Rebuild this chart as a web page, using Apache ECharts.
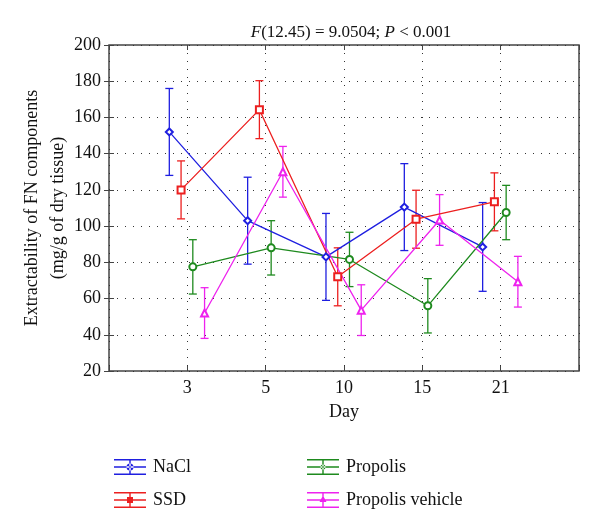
<!DOCTYPE html>
<html>
<head>
<meta charset="utf-8">
<script src="https://cdn.jsdelivr.net/npm/echarts@6/dist/echarts.min.js"></script>
<style>html,body{margin:0;padding:0;background:#fff}#c{width:600px;height:532px}</style>
</head>
<body>
<div id="c"></div>
<script>
const dayLabels = ['3', '5', '10', '15', '21'];
const yTicks = [20, 40, 60, 80, 100, 120, 140, 160, 180, 200];
const seriesNames = ['NaCl', 'SSD', 'Propolis', 'Propolis vehicle'];
const naclMean = [152, 103, 83, 110.5, 88.5];
const naclErr = [24, 24, 24, 24, 24.5];
const ssdMean = [120, 164.3, 72, 103.8, 113.4];
const ssdErr = [16, 16, 16, 16, 16];
const propolisMean = [77.5, 88, 81.6, 56, 107.5];
const propolisErr = [15, 15, 15, 15, 15];
const vehicleMean = [52, 130, 53.6, 103.4, 69.3];
const vehicleErr = [14, 14, 14, 14, 14];

const font = 'Liberation Serif, DejaVu Serif, serif';
const colors = ['#1f1fe0', '#ec1f1f', '#1e8a1e', '#ee22ee'];
const symbols = ['emptyDiamond', 'emptyRect', 'emptyCircle', 'emptyTriangle'];
const offsets = [-0.23, -0.08, 0.07, 0.22];
const means = [naclMean, ssdMean, propolisMean, vehicleMean];
const errs = [naclErr, ssdErr, propolisErr, vehicleErr];

const bars = 'M0,0H32V1.4H0Z M0,14.6H32V16H0Z M0,7.3H32V8.7H0Z M15.3,0H16.7V16H15.3Z ';
const markerPaths = [
  'M12.5,8A3.5,3.5 0 1,0 19.5,8A3.5,3.5 0 1,0 12.5,8Z',
  'M13,5H19V11H13Z',
  'M13.5,8A2.5,2.5 0 1,0 18.5,8A2.5,2.5 0 1,0 13.5,8Z',
  'M16,3.5L19.5,10H12.5Z'
];
const icons = markerPaths.map(m => 'path://' + bars + m);

const series = [];
seriesNames.forEach((name, i) => {
  const pts = means[i].map((v, k) => [k + 1 + offsets[i], v]);
  series.push({
    name: name, type: 'line', data: pts, symbol: symbols[i], symbolSize: 7,
    itemStyle: { color: colors[i] }, lineStyle: { color: colors[i], width: 1.3 },
    z: 3
  });
  const eb = means[i].map((v, k) => [k + 1 + offsets[i], v - errs[i][k], v + errs[i][k]]);
  series.push({
    name: name, type: 'custom', data: eb, itemStyle: { color: colors[i] }, z: 2,
    renderItem: function (params, api) {
      const x = api.value(0);
      const lo = api.coord([x, api.value(1)]);
      const hi = api.coord([x, api.value(2)]);
      const w = 4;
      const st = { stroke: colors[i], lineWidth: 1.3 };
      return { type: 'group', children: [
        { type: 'line', shape: { x1: lo[0], y1: lo[1], x2: hi[0], y2: hi[1] }, style: st },
        { type: 'line', shape: { x1: lo[0] - w, y1: lo[1], x2: lo[0] + w, y2: lo[1] }, style: st },
        { type: 'line', shape: { x1: hi[0] - w, y1: hi[1], x2: hi[0] + w, y2: hi[1] }, style: st }
      ] };
    }
  });
});

const dotted = { show: true, lineStyle: { color: '#333', type: [1, 7], width: 1 } };
const chart = echarts.init(document.getElementById('c'));
chart.setOption({
  animation: false,
  backgroundColor: '#fff',
  title: {
    text: '{i|F}(12.45) = 9.0504; {i|P} < 0.001',
    left: 346, top: 19, textAlign: 'center',
    textStyle: { fontFamily: font, fontSize: 17, fontWeight: 'normal', color: '#111',
      rich: { i: { fontFamily: font, fontSize: 17, fontStyle: 'italic', color: '#111' } } }
  },
  grid: { left: 109, right: 21, top: 45, bottom: 161, show: true, borderColor: '#444', borderWidth: 1.5 },
  xAxis: [{
    type: 'value', min: 0, max: 6, interval: 1,
    name: 'Day', nameLocation: 'middle', nameGap: 32,
    nameTextStyle: { fontFamily: font, fontSize: 18, color: '#111' },
    axisLine: { show: false },
    axisTick: { show: true, inside: true, length: 5, lineStyle: { color: '#444' } },
    axisLabel: { fontFamily: font, fontSize: 18, color: '#111', margin: 8,
      formatter: v => (v >= 1 && v <= dayLabels.length) ? dayLabels[v - 1] : '' },
    splitLine: dotted
  }, {
    type: 'value', min: 0, max: 6, interval: 1, position: 'top',
    axisLine: { show: false }, axisLabel: { show: false },
    axisTick: { show: true, inside: true, length: 5, lineStyle: { color: '#444' } },
    splitLine: { show: false }
  }],
  yAxis: [{
    type: 'value', min: yTicks[0], max: yTicks[yTicks.length - 1], interval: 20,
    name: 'Extractability of FN components\n(mg/g of dry tissue)',
    nameLocation: 'middle', nameGap: 38, nameMoveOverlap: false,
    nameTextStyle: { fontFamily: font, fontSize: 18, color: '#111', lineHeight: 26 },
    axisLine: { show: false },
    axisTick: { show: true, inside: true, length: 5, lineStyle: { color: '#444' } },
    axisLabel: { fontFamily: font, fontSize: 18, color: '#111', margin: 8 },
    splitLine: dotted
  }, {
    type: 'value', min: yTicks[0], max: yTicks[yTicks.length - 1], interval: 20, position: 'right',
    axisLine: { show: false }, axisLabel: { show: false },
    axisTick: { show: true, inside: true, length: 5, lineStyle: { color: '#444' } },
    splitLine: { show: false }
  }],
  legend: [{
    left: 109, top: 453, orient: 'vertical', itemWidth: 32, itemHeight: 18, itemGap: 15,
    data: [{ name: seriesNames[0], icon: icons[0] }, { name: seriesNames[1], icon: icons[1] }],
    textStyle: { fontFamily: font, fontSize: 18, color: '#111', padding: [0, 0, 0, 2] }
  }, {
    left: 302, top: 453, orient: 'vertical', itemWidth: 32, itemHeight: 18, itemGap: 15,
    data: [{ name: seriesNames[2], icon: icons[2] }, { name: seriesNames[3], icon: icons[3] }],
    textStyle: { fontFamily: font, fontSize: 18, color: '#111', padding: [0, 0, 0, 2] }
  }],
  series: series
});
</script>
</body>
</html>
